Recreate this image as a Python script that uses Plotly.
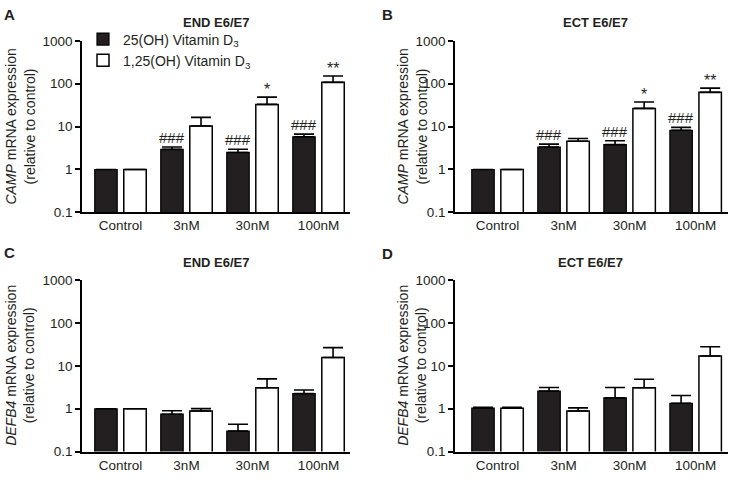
import math
import plotly.graph_objects as go

W, H = 731, 478

categories = ["Control", "3nM", "30nM", "100nM"]
series_names = ["25(OH) Vitamin D<sub>3</sub>", "1,25(OH) Vitamin D<sub>3</sub>"]

# Panel A: CAMP, END E6/E7
A_25 = [1.0, 2.95, 2.5, 5.8]
A_25_err = [0.0, 0.4, 0.46, 0.9]
A_125 = [1.0, 10.3, 33.0, 108.0]
A_125_err = [0.0, 6.1, 15.7, 44.0]
A_sig_25 = ["", "###", "###", "###"]
A_sig_125 = ["", "", "*", "**"]

# Panel B: CAMP, ECT E6/E7
B_25 = [1.0, 3.35, 3.8, 8.2]
B_25_err = [0.0, 0.55, 0.9, 1.4]
B_125 = [1.0, 4.57, 26.6, 63.0]
B_125_err = [0.0, 0.73, 11.0, 16.0]
B_sig_25 = ["", "###", "###", "###"]
B_sig_125 = ["", "", "*", "**"]

# Panel C: DEFB4, END E6/E7
C_25 = [1.0, 0.745, 0.30, 2.25]
C_25_err = [0.0, 0.155, 0.135, 0.48]
C_125 = [1.0, 0.886, 3.08, 15.7]
C_125_err = [0.0, 0.12, 1.9, 11.0]

# Panel D: DEFB4, ECT E6/E7
D_25 = [1.03, 2.59, 1.8, 1.34]
D_25_err = [0.05, 0.54, 1.33, 0.69]
D_125 = [1.03, 0.886, 3.08, 17.0]
D_125_err = [0.05, 0.16, 1.8, 11.0]

panel_titles = ["END E6/E7", "ECT E6/E7", "END E6/E7", "ECT E6/E7"]
panel_letters = ["A", "B", "C", "D"]
ytitles = ["<i>CAMP</i> mRNA expression<br>(relative to control)",
           "<i>CAMP</i> mRNA expression<br>(relative to control)",
           "<i>DEFB4</i> mRNA expression<br>(relative to control)",
           "<i>DEFB4</i> mRNA expression<br>(relative to control)"]

panels = [
    (A_25, A_25_err, A_125, A_125_err, A_sig_25, A_sig_125),
    (B_25, B_25_err, B_125, B_125_err, B_sig_25, B_sig_125),
    (C_25, C_25_err, C_125, C_125_err, None, None),
    (D_25, D_25_err, D_125, D_125_err, None, None),
]

FONT = "Arial, Liberation Sans, sans-serif"
INK = "#231f20"
DARK = "#231f20"

def px_x(p):
    return p / W

def px_y(p):
    return 1 - p / H

# layout geometry (pixels)
x_dom = [(82, 350), (455, 728), (82, 350), (455, 728)]
y_dom = [(35, 212), (35, 212), (282, 459), (282, 459)]
x_rng = [(-0.583, 3.477), (-0.644, 3.49), (-0.583, 3.477), (-0.644, 3.49)]
title_pos = [(216, 16), (595, 16), (216, 264), (590, 264)]
letter_pos = [(9, 8), (387, 8), (9, 253), (387, 254)]
ytitle_x = [20, 412, 20, 412]

# minor tick positions on the log axes (2..9 within each decade)
minor_vals = [m * 10 ** d for d in range(-1, 3) for m in range(2, 10)]

fig = go.Figure()
xs = list(range(len(categories)))
half = 0.22

annotations = []
for i, (v25, e25, v125, e125, s25, s125) in enumerate(panels):
    xa = "x" if i == 0 else f"x{i+1}"
    ya = "y" if i == 0 else f"y{i+1}"
    fig.add_trace(go.Bar(
        x=xs, y=v25, name=series_names[0], legendgroup="a", showlegend=(i == 0),
        marker=dict(color=DARK, line=dict(color="black", width=1.2)),
        error_y=dict(type="data", array=e25, arrayminus=[0]*4, symmetric=False,
                     color="black", thickness=1.6, width=10),
        xaxis=xa, yaxis=ya))
    fig.add_trace(go.Bar(
        x=xs, y=v125, name=series_names[1], legendgroup="b", showlegend=(i == 0),
        marker=dict(color="white", line=dict(color="black", width=1.5)),
        error_y=dict(type="data", array=e125, arrayminus=[0]*4, symmetric=False,
                     color="black", thickness=1.6, width=10),
        xaxis=xa, yaxis=ya))
    if s25:
        for k in xs:
            if s25[k]:
                annotations.append(dict(x=k - half, y=math.log10(v25[k] + e25[k]),
                                        xref=xa, yref=ya, text=s25[k], showarrow=False,
                                        xanchor="center", yanchor="bottom", yshift=-1,
                                        font=dict(family=FONT, size=15, color=INK)))
            if s125[k]:
                annotations.append(dict(x=k + half, y=math.log10(v125[k] + e125[k]),
                                        xref=xa, yref=ya, text=s125[k], showarrow=False,
                                        xanchor="center", yanchor="bottom", yshift=-3,
                                        font=dict(family=FONT, size=16, color=INK)))
    axis_common = dict(showline=True, linecolor="black", linewidth=1.5)
    ydomain = [px_y(y_dom[i][1]), px_y(y_dom[i][0])]
    fig.update_layout(**{
        ("xaxis" if i == 0 else f"xaxis{i+1}"): dict(
            domain=[px_x(x_dom[i][0]), px_x(x_dom[i][1])],
            range=list(x_rng[i]), tickvals=xs, ticktext=categories,
            ticks="", showgrid=False, zeroline=False, anchor=ya,
            tickfont=dict(family=FONT, size=13.5, color=INK), **axis_common),
        ("yaxis" if i == 0 else f"yaxis{i+1}"): dict(
            domain=ydomain,
            type="log", range=[-1, 3], dtick=1, exponentformat="none",
            ticks="outside", ticklen=5, tickwidth=1.5, tickcolor="black",
            showgrid=False, zeroline=False, anchor=xa,
            tickfont=dict(family=FONT, size=13.5, color=INK), **axis_common),
        # overlay axis carrying only the minor ticks
        f"yaxis{i+5}": dict(
            domain=ydomain, overlaying=ya, anchor=xa, side="left",
            type="log", range=[-1, 3], tickmode="array", tickvals=minor_vals,
            ticks="outside", ticklen=3, tickwidth=1, tickcolor="black",
            showticklabels=False, showgrid=False, zeroline=False, showline=False),
    })
    annotations.append(dict(x=px_x(title_pos[i][0]), y=px_y(title_pos[i][1]), xref="paper", yref="paper",
                            text=f"<b>{panel_titles[i]}</b>", showarrow=False,
                            xanchor="center", yanchor="middle",
                            font=dict(family=FONT, size=13, color=INK)))
    annotations.append(dict(x=px_x(letter_pos[i][0]), y=px_y(letter_pos[i][1]), xref="paper", yref="paper",
                            text=f"<b>{panel_letters[i]}</b>", showarrow=False,
                            xanchor="center", yanchor="middle",
                            font=dict(family=FONT, size=15, color=INK)))
    yc = (y_dom[i][0] + y_dom[i][1]) / 2
    annotations.append(dict(x=px_x(ytitle_x[i]), y=px_y(yc), xref="paper", yref="paper",
                            text=ytitles[i], showarrow=False, textangle=-90,
                            xanchor="center", yanchor="middle",
                            font=dict(family=FONT, size=14, color=INK)))

fig.update_layout(
    width=W, height=H, margin=dict(l=0, r=0, t=0, b=0),
    paper_bgcolor="white", plot_bgcolor="white",
    barmode="group", bargap=0.12, bargroupgap=0.227,
    annotations=annotations,
    showlegend=True,
    legend=dict(x=px_x(83), y=px_y(17), xanchor="left", yanchor="top",
                bgcolor="rgba(0,0,0,0)", tracegroupgap=0,
                font=dict(family=FONT, size=14, color=INK)),
)

fig.write_html("out.html", config={"displayModeBar": False},
               post_script="document.body.style.margin='0';")
